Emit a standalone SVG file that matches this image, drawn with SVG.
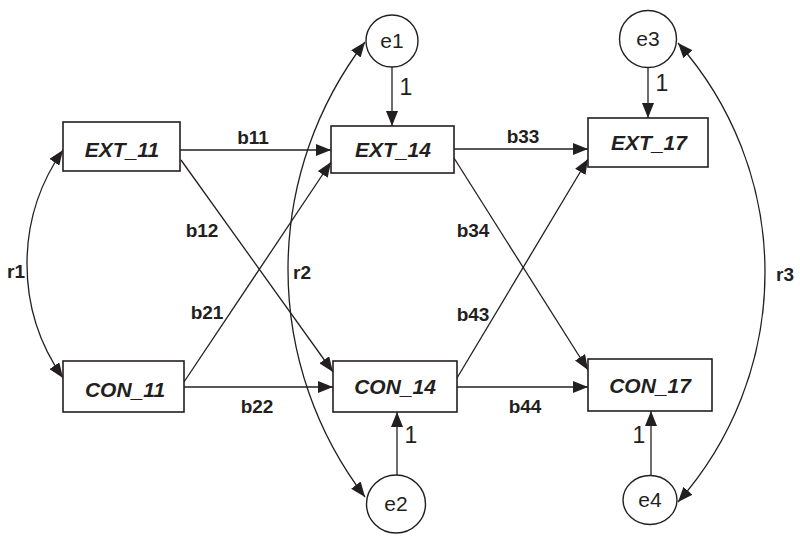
<svg xmlns="http://www.w3.org/2000/svg" width="800" height="545" viewBox="0 0 800 545">
<style>
.box{fill:#fff;stroke:#231f20;stroke-width:1.6}
.ell{fill:#fff;stroke:#231f20;stroke-width:1.4}
.nl{font-family:"Liberation Sans",Arial,sans-serif;font-size:21px;font-weight:bold;font-style:italic;fill:#231f20;text-anchor:middle}
.el{font-family:"Liberation Sans",Arial,sans-serif;font-size:21px;fill:#231f20;text-anchor:middle}
.pl{font-family:"Liberation Sans",Arial,sans-serif;font-size:19px;font-weight:bold;fill:#231f20;text-anchor:middle}
.one{font-family:"Liberation Sans",Arial,sans-serif;font-size:23px;fill:#231f20;text-anchor:middle}
.c{fill:none;stroke:#231f20;stroke-width:1.3}
.a{marker-end:url(#ah)}
.d{marker-start:url(#ah);marker-end:url(#ah)}
</style>
<defs>
<marker id="ah" viewBox="0 0 15 12" refX="15" refY="6" markerWidth="15" markerHeight="12" markerUnits="userSpaceOnUse" orient="auto-start-reverse">
<path d="M0,0 L15,6 L0,12 z" fill="#231f20"/>
</marker>
</defs>
<rect width="800" height="545" fill="#fff"/>
<g id="connectors">
<path class="c d" d="M63,150 A198.5,198.5 0 0 0 63,378"/>
<path class="c d" d="M365,42 A374.6,374.6 0 0 0 365,497"/>
<path class="c d" d="M678,43 A346.2,346.2 0 0 1 678,502"/>
<path class="c a" d="M180,150 L331,150"/>
<path class="c a" d="M181,160 L333,372"/>
<path class="c a" d="M184,382 L331,162"/>
<path class="c a" d="M184,387 L333,387"/>
<path class="c a" d="M454,149 L588,149"/>
<path class="c a" d="M454,158 L588,370"/>
<path class="c a" d="M457,378 L588,159"/>
<path class="c a" d="M457,387 L588,387"/>
<path class="c a" d="M392,67 L392,126"/>
<path class="c a" d="M648,67 L648,118"/>
<path class="c a" d="M397,475 L397,412"/>
<path class="c a" d="M651,476 L651,411"/>
<text class="pl" x="253" y="144">b11</text>
<text class="pl" x="202" y="237">b12</text>
<text class="pl" x="207" y="319">b21</text>
<text class="pl" x="257" y="413">b22</text>
<text class="pl" x="523" y="143">b33</text>
<text class="pl" x="473" y="237">b34</text>
<text class="pl" x="473" y="321">b43</text>
<text class="pl" x="525" y="413">b44</text>
<text class="pl" x="16" y="278">r1</text>
<text class="pl" x="302" y="279">r2</text>
<text class="pl" x="785" y="281">r3</text>
<text class="one" x="406" y="95">1</text>
<text class="one" x="662" y="91">1</text>
<text class="one" x="411" y="443">1</text>
<text class="one" x="639" y="443">1</text>
</g>
<g id="EXT_11"><rect class="box" x="63" y="122" width="117" height="49"/><text class="nl" x="122" y="157">EXT_11</text></g>
<g id="CON_11"><rect class="box" x="63" y="361" width="121" height="51"/><text class="nl" x="125" y="397">CON_11</text></g>
<g id="EXT_14"><rect class="box" x="331" y="126" width="123" height="47"/><text class="nl" x="393" y="157">EXT_14</text></g>
<g id="CON_14"><rect class="box" x="333" y="361" width="124" height="51"/><text class="nl" x="395" y="394">CON_14</text></g>
<g id="EXT_17"><rect class="box" x="588" y="118" width="120" height="49"/><text class="nl" x="649" y="150">EXT_17</text></g>
<g id="CON_17"><rect class="box" x="588" y="359" width="124" height="52"/><text class="nl" x="650" y="393">CON_17</text></g>
<g id="e1"><circle class="ell" cx="392" cy="41" r="26"/><text class="el" x="392" y="48">e1</text></g>
<g id="e3"><circle class="ell" cx="648" cy="39" r="28.5"/><text class="el" x="648" y="46">e3</text></g>
<g id="e2"><ellipse class="ell" cx="396" cy="504" rx="29.5" ry="29"/><text class="el" x="396" y="511">e2</text></g>
<g id="e4"><ellipse class="ell" cx="650" cy="500" rx="27" ry="24.5"/><text class="el" x="650" y="507">e4</text></g>
</svg>
